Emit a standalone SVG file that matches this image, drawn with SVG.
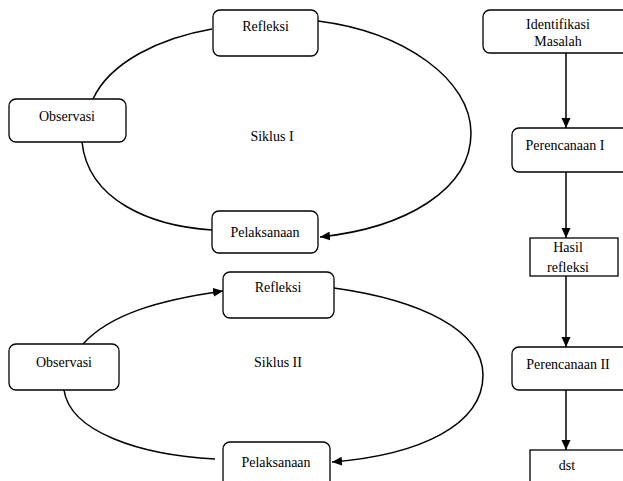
<svg xmlns="http://www.w3.org/2000/svg" width="623" height="481" viewBox="0 0 623 481">
<defs>
<marker id="ah" markerUnits="userSpaceOnUse" markerWidth="12" markerHeight="10" refX="10" refY="4.5" orient="auto">
<path d="M0,0 L10,4.5 L0,9 z" fill="#000"/>
</marker>
<style>
.b{fill:#fff;stroke:#000;stroke-width:1.3}
.t{font-size:14px;fill:#000;text-anchor:middle}
.c{fill:none;stroke:#000;stroke-width:1.5}
.a{marker-end:url(#ah)}
</style>
</defs>
<rect width="623" height="481" fill="#fff"/>
<g id="connectors">
<path class="c" d="M93,99 C110,62 160,38 212,29"/>
<path class="c" d="M82,142 C88,200 150,226 212,230"/>
<path class="c a" d="M318,21 C405,32 471,80 471,133 C471,190 405,228 320,237"/>
<path class="c a" d="M83,344 C110,314 160,300 223,291"/>
<path class="c" d="M64,390 C70,432 140,455 215,459"/>
<path class="c a" d="M334,288 C420,300 483,330 483,375 C483,425 420,455 332,462"/>
<path class="c a" d="M566,53 L566,128"/>
<path class="c a" d="M566,172 L566,238"/>
<path class="c a" d="M566,268 L566,347"/>
<path class="c a" d="M566,390 L566,450"/>
</g>
<g font-family="Liberation Serif, Times New Roman, DejaVu Serif, serif">
<g id="refleksi1"><rect class="b" x="213" y="10" width="105" height="46" rx="7"/><text class="t" x="265.5" y="31">Refleksi</text></g>
<g id="observasi1"><rect class="b" x="9" y="99" width="117" height="43" rx="7"/><text class="t" x="67" y="121">Observasi</text></g>
<text class="t" x="272" y="141">Siklus I</text>
<g id="pelaksanaan1"><rect class="b" x="212" y="211" width="106" height="42" rx="7"/><text class="t" x="265" y="237">Pelaksanaan</text></g>
<g id="refleksi2"><rect class="b" x="223" y="272" width="111" height="46" rx="7"/><text class="t" x="278" y="292">Refleksi</text></g>
<g id="observasi2"><rect class="b" x="9" y="344" width="110" height="46" rx="7"/><text class="t" x="64" y="367">Observasi</text></g>
<text class="t" x="278" y="367">Siklus II</text>
<g id="pelaksanaan2"><rect class="b" x="223" y="442" width="107" height="48" rx="7"/><text class="t" x="276" y="467">Pelaksanaan</text></g>
<g id="identifikasi"><rect class="b" x="483" y="10" width="160" height="43" rx="7"/><text class="t" x="558" y="29">Identifikasi</text><text class="t" x="558" y="46">Masalah</text></g>
<g id="perencanaan1"><rect class="b" x="512" y="128" width="130" height="44" rx="7"/><text class="t" x="565" y="150">Perencanaan I</text></g>
<g id="hasil"><rect class="b" x="530" y="238" width="88" height="38"/><text class="t" x="568" y="252">Hasil</text><text class="t" x="568" y="272">refleksi</text></g>
<g id="perencanaan2"><rect class="b" x="512" y="347" width="130" height="43" rx="7"/><text class="t" x="568" y="369">Perencanaan II</text></g>
<g id="dst"><rect class="b" x="530" y="450" width="100" height="40"/><text class="t" x="567" y="470">dst</text></g>
</g>
</svg>
